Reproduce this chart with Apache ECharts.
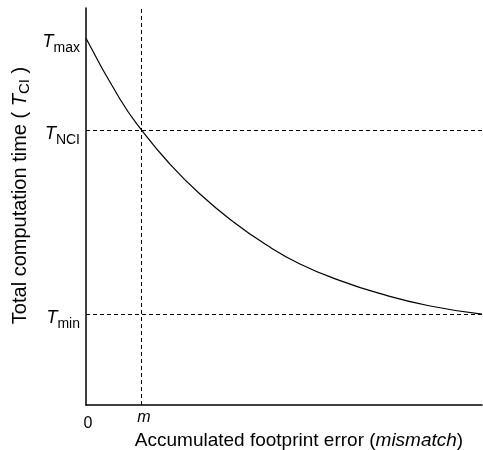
<!DOCTYPE html>
<html>
<head>
<meta charset="utf-8">
<script src="https://cdn.jsdelivr.net/npm/echarts@6/dist/echarts.min.js"></script>
<style>
  html, body { margin: 0; padding: 0; background: #fff; }
  #chart { width: 483px; height: 450px; }
</style>
</head>
<body>
<div id="chart"></div>
<script>
// curve, both axes on a 0..100 scale
const errorX = [0, 8.6, 14, 21, 28.7, 37, 45.6, 53.9, 64, 74.1, 86.6, 100]
const timeY = [92.4, 77.0, 69.3, 60.9, 53.2, 46.3, 40.3, 35.6, 31.4, 28.1, 25.0, 22.9]

const yTickValues = [22.9, 69.3, 92.4]
const yTickNames = ["min", "NCI", "max"]
const mValue = 14
const xTickValues = [0]

const FONT = "Liberation Sans, Arial, sans-serif"
const INK = "#000"

const chart = echarts.init(document.getElementById("chart"))

const subRich = {
  t: { fontSize: 18, fontStyle: "italic", fontFamily: FONT, color: INK, lineHeight: 20, padding: [8, 0, 0, 0] },
  s: { fontSize: 14, fontFamily: FONT, color: INK, lineHeight: 14, padding: [20, 0, 0, 0] }
}

chart.setOption({
  animation: false,
  grid: { left: 86, right: 1, top: 8, bottom: 45, outerBoundsMode: "none" },
  xAxis: {
    type: "value",
    min: 0,
    max: 100,
    name: "Accumulated footprint error ({i|mismatch})",
    nameLocation: "middle",
    nameGap: 26,
    nameMoveOverlap: false,
    nameTextStyle: {
      fontSize: 19, fontFamily: FONT, color: INK, padding: [0, 0, 0, 30],
      rich: { i: { fontSize: 19, fontStyle: "italic", fontFamily: FONT, color: INK } }
    },
    axisLine: { show: true, lineStyle: { color: INK, width: 1.5 } },
    axisTick: { show: false },
    splitLine: { show: false },
    axisLabel: {
      customValues: xTickValues,
      margin: 11,
      fontSize: 16,
      fontFamily: FONT,
      color: INK,
      padding: [0, 0, 0, 4]
    }
  },
  yAxis: {
    type: "value",
    min: 0,
    max: 100,
    name: "{a|Total computation time ( }{t|T}{s|CI}{a| )}",
    nameLocation: "middle",
    nameGap: 55,
    nameMoveOverlap: false,
    nameTextStyle: {
      padding: [0, 0, 0, 22],
      rich: {
        a: { fontSize: 20, fontFamily: FONT, color: INK, lineHeight: 22 },
        t: { fontSize: 20, fontStyle: "italic", fontFamily: FONT, color: INK, lineHeight: 22 },
        s: { fontSize: 15, fontFamily: FONT, color: INK, lineHeight: 15, padding: [10, 0, 0, 0] }
      }
    },
    axisLine: { show: true, lineStyle: { color: INK, width: 1.5 } },
    axisTick: { show: false },
    splitLine: { show: false },
    axisLabel: {
      customValues: yTickValues,
      margin: 6,
      formatter: (v) => {
        const i = yTickValues.indexOf(v)
        return "{t|T}{s|" + yTickNames[i] + "}"
      },
      rich: subRich
    }
  },
  series: [
    {
      type: "line",
      data: errorX.map((x, i) => [x, timeY[i]]),
      smooth: 0.5,
      showSymbol: false,
      lineStyle: { color: INK, width: 1.2 },
      markLine: {
        silent: true,
        symbol: "none",
        lineStyle: { color: INK, width: 1, type: [4, 3] },
        data: [
          {
            xAxis: mValue,
            label: {
              show: true,
              position: "start",
              formatter: "m",
              fontSize: 16,
              fontStyle: "italic",
              fontFamily: FONT,
              color: INK,
              distance: 5,
              padding: [0, 0, 0, 5]
            }
          },
          { yAxis: yTickValues[1], label: { show: false } },
          { yAxis: yTickValues[0], label: { show: false } }
        ]
      }
    }
  ]
})
</script>
</body>
</html>
